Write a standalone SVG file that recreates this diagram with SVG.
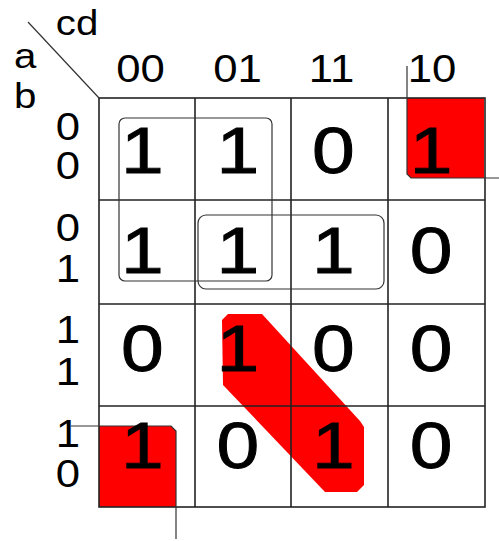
<svg xmlns="http://www.w3.org/2000/svg" width="499" height="541" viewBox="0 0 499 541">
<style>
.lbl{font-family:"Liberation Sans",Arial,sans-serif;font-size:38px;fill:#000;text-anchor:middle}
.hd{font-family:"Liberation Sans",Arial,sans-serif;font-size:35px;fill:#000;text-anchor:middle}
.dig{font-family:"Liberation Sans",Arial,sans-serif;font-size:64px;fill:#000;stroke:#000;stroke-width:0.9;text-anchor:middle}
.grid{stroke:#222;stroke-width:1.6;fill:none}
.loop{stroke:#333;stroke-width:1.2;fill:none}
.red{fill:#ff0000}
</style>
<rect width="499" height="541" fill="#fff"/>
<g id="groups">
<path id="g-corner-tr" class="red" d="M407,98 H484 V178 H411 L407,174 Z"/>
<path id="g-corner-bl" class="red" d="M99,426 H171 L176,431 V507 H99 Z"/>
<path id="g-diag" class="red" d="M228,314 L262,314 L360,421 L364,427 L364,485 L357,492 L325,492 L223,385 L222,320 Z"/>
</g>
<g id="grid" class="grid">
<rect x="99" y="98" width="386" height="409"/>
<line x1="195" y1="98" x2="195" y2="507"/>
<line x1="291" y1="98" x2="291" y2="507"/>
<line x1="388" y1="98" x2="388" y2="507"/>
<line x1="99" y1="200" x2="485" y2="200"/>
<line x1="99" y1="304" x2="485" y2="304"/>
<line x1="99" y1="406" x2="485" y2="406"/>
</g>
<g id="connectors" class="loop">
<line x1="28" y1="22" x2="99" y2="98"/>
<rect x="119" y="118" width="153" height="163" rx="6"/>
<rect x="198" y="215" width="186" height="74" rx="8"/>
<path d="M407,66 V174 L411,178 H499"/>
<path d="M71,426 H171 L176,431 V539"/>
</g>
<g id="headers" transform="scale(1.15 1)">
<text class="hd" x="67" y="35">cd</text>
<text class="hd" x="22" y="68">a</text>
<text class="hd" x="22" y="108">b</text>
<text class="lbl" x="122.2" y="82">00</text>
<text class="lbl" x="206.5" y="82">01</text>
<text class="lbl" x="288.3" y="82">11</text>
<text class="lbl" x="375.7" y="82">10</text>
<text class="lbl"><tspan x="59.1" y="140">0</tspan><tspan x="59.1" y="179">0</tspan></text>
<text class="lbl"><tspan x="59.1" y="241">0</tspan><tspan x="59.1" y="282">1</tspan></text>
<text class="lbl"><tspan x="59.1" y="343">1</tspan><tspan x="59.1" y="385">1</tspan></text>
<text class="lbl"><tspan x="59.1" y="447">1</tspan><tspan x="59.1" y="487">0</tspan></text>
</g>
<g id="cells" transform="scale(1.2 1)">
<g id="r00"><text class="dig" x="118.75" y="173">1</text><text class="dig" x="198.3" y="173">1</text><text class="dig" x="277.9" y="173">0</text><text class="dig" x="359.2" y="173">1</text></g>
<g id="r01"><text class="dig" x="118.75" y="273">1</text><text class="dig" x="198.3" y="273">1</text><text class="dig" x="277.9" y="273">1</text><text class="dig" x="359.2" y="273">0</text></g>
<g id="r11"><text class="dig" x="118.75" y="371">0</text><text class="dig" x="198.3" y="371">1</text><text class="dig" x="277.9" y="371">0</text><text class="dig" x="359.2" y="371">0</text></g>
<g id="r10"><text class="dig" x="118.75" y="468">1</text><text class="dig" x="198.3" y="468">0</text><text class="dig" x="277.9" y="468">1</text><text class="dig" x="359.2" y="468">0</text></g>
</g>
</svg>
